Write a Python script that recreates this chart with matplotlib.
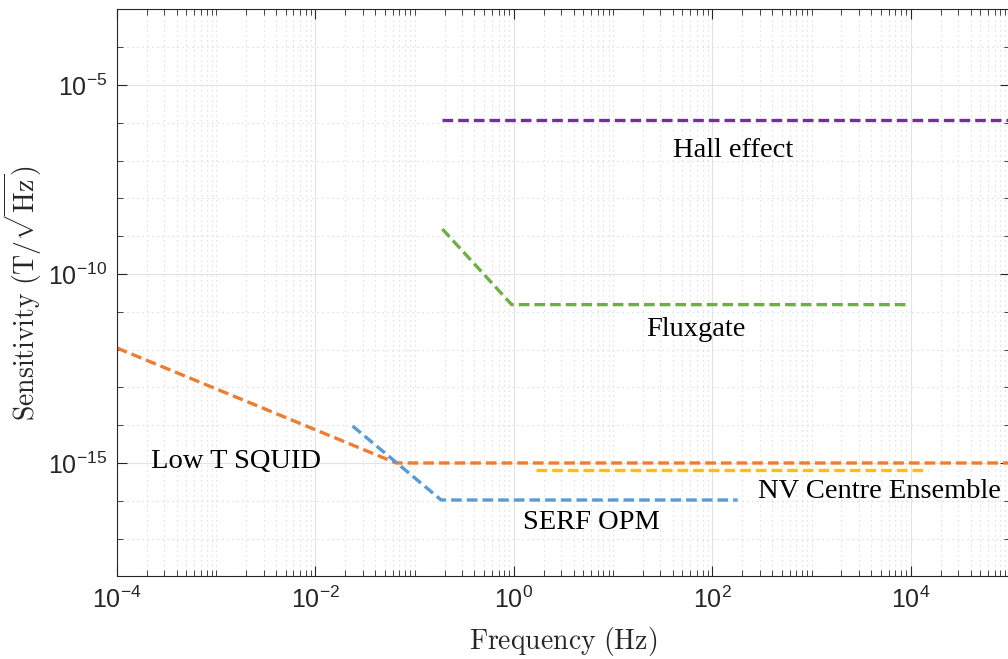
import matplotlib
matplotlib.use("Agg")
import matplotlib.pyplot as plt
from matplotlib.ticker import FixedLocator, LogLocator, FuncFormatter, NullFormatter
import numpy as np

plt.rcParams['mathtext.fontset'] = 'custom'
plt.rcParams['mathtext.rm'] = 'Liberation Sans'
plt.rcParams['mathtext.it'] = 'Liberation Sans:italic'

# sensor curves (frequency in Hz, sensitivity in T/sqrt(Hz))
hall_f = [0.19, 1e5]
hall_s = [1.16e-6, 1.16e-6]

flux_f = [0.19, 0.95, 9000]
flux_s = [1.55e-9, 1.55e-11, 1.55e-11]

squid_f = [1e-4, 0.065, 1e5]
squid_s = [1.1e-12, 1e-15, 1e-15]

serf_f = [0.0237, 0.185, 180]
serf_s = [9.5e-15, 1.05e-16, 1.05e-16]

nv_f = [1.67, 14800]
nv_s = [6.6e-16, 6.6e-16]

labels = ["Hall effect", "Fluxgate", "Low T SQUID", "SERF OPM", "NV Centre Ensemble"]
label_f = [162, 68, 1.6e-3, 6.0, 290]
label_s = [1.9e-7, 3.4e-12, 1.1e-15, 2.6e-17, 1.75e-16]

x_major = [1e-4, 1e-2, 1e0, 1e2, 1e4]
y_major = [1e-15, 1e-10, 1e-5]

fig = plt.figure(figsize=(10.08, 6.59), dpi=100)
ax = fig.add_axes([117/1008, 1 - 576.4/659, 893/1008, (576.4 - 9.4)/659])

dash = (3.2, 1.5)
lw = 2.4
ax.plot(hall_f, hall_s, color='#7030A0', lw=lw, dashes=dash)
ax.plot(flux_f, flux_s, color='#70AD47', lw=lw, dashes=dash)
ax.plot(squid_f, squid_s, color='#ED7D31', lw=lw, dashes=dash)
ax.plot(serf_f, serf_s, color='#5B9BD5', lw=lw, dashes=dash)
ax.plot(nv_f, nv_s, color='#FFC000', lw=lw, dashes=dash)

for i, txt in enumerate(labels):
    ha = 'left' if txt.startswith('NV') else 'center'
    ax.text(label_f[i], label_s[i], txt, fontsize=20.5, family='Liberation Serif',
            ha=ha, va='center', color='black')

ax.set_xscale('log')
ax.set_yscale('log')
ax.set_xlim(1e-4, 1e5)
ax.set_ylim(1e-18, 1e-3)

ax.xaxis.set_major_locator(FixedLocator(x_major))
ax.xaxis.set_minor_locator(LogLocator(base=10, subs=np.arange(1, 10), numticks=100))
ax.yaxis.set_major_locator(FixedLocator(y_major))
ax.yaxis.set_minor_locator(LogLocator(base=10, subs=[1.0], numticks=100))
ax.xaxis.set_minor_formatter(NullFormatter())
ax.yaxis.set_minor_formatter(NullFormatter())

fmt = FuncFormatter(lambda v, p: r'$\mathrm{10^{%d}}$' % int(round(np.log10(v))))
ax.xaxis.set_major_formatter(fmt)
ax.yaxis.set_major_formatter(fmt)

ax.tick_params(which='both', direction='in', top=True, right=True, colors='#262626',
               labelsize=18)
ax.tick_params(which='major', length=7, width=0.8, pad=7)
ax.tick_params(which='minor', length=4, width=0.6)
for s in ax.spines.values():
    s.set_color('#262626')
    s.set_linewidth(0.8)

ax.grid(which='major', color='#e3e3e3', linestyle='-', linewidth=0.8)
ax.grid(which='minor', color='#d4d4d4', linestyle=(0, (1, 3.5)), linewidth=0.8)
ax.set_axisbelow(True)

ax.set_xlabel(r'$\mathrm{Frequency\ (Hz)}$', fontsize=20, color='#262626',
              math_fontfamily='cm', labelpad=9)
ax.set_ylabel(r'$\mathrm{Sensitivity\ (T/\sqrt{Hz})}$', fontsize=20, color='#262626',
              math_fontfamily='cm', labelpad=3)

fig.savefig('out.png', dpi=100)
